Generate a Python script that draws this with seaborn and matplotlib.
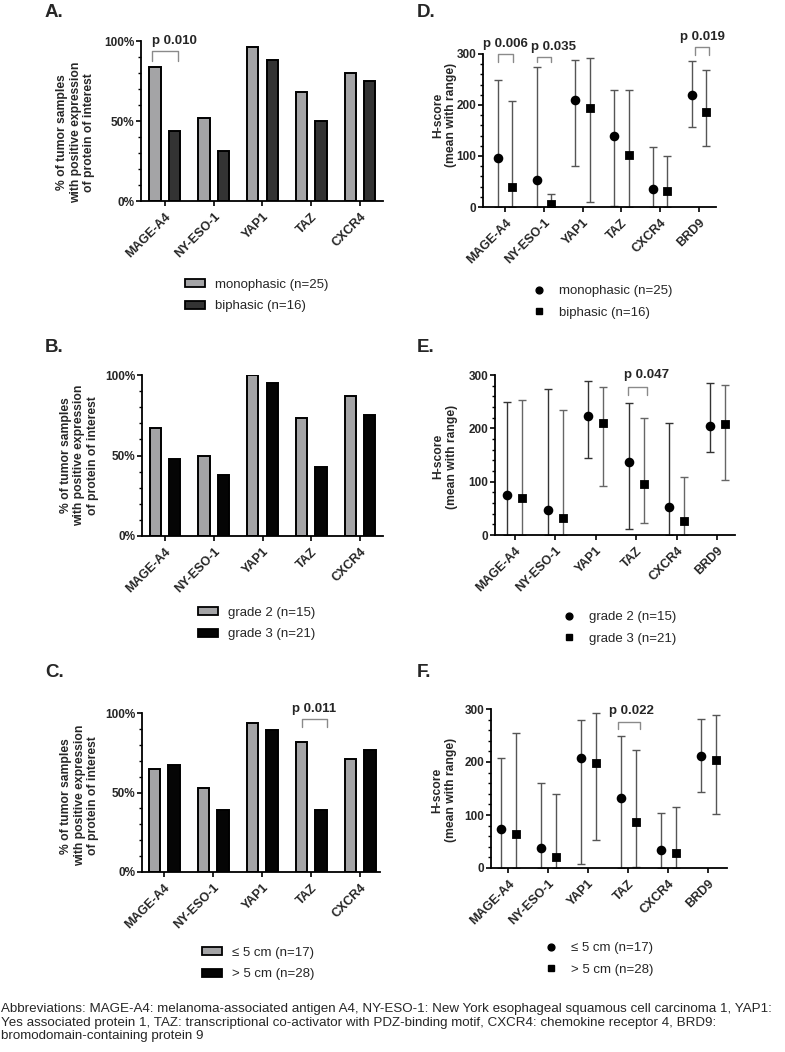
import pandas as pd
import matplotlib
matplotlib.use("Agg")
import matplotlib.pyplot as plt
from matplotlib.ticker import MultipleLocator, FixedLocator
from matplotlib.lines import Line2D
from matplotlib.patches import Patch
import seaborn as sns

# Data

bar_proteins = ["MAGE-A4", "NY-ESO-1", "YAP1", "TAZ", "CXCR4"]
dot_proteins = ["MAGE-A4", "NY-ESO-1", "YAP1", "TAZ", "CXCR4", "BRD9"]

# A / D : histologic subtype
subtype_groups = ["monophasic (n=25)", "biphasic (n=16)"]
subtype_pct_mono = [84, 52, 96, 68, 80]
subtype_pct_bi = [44, 31, 88, 50, 75]
subtype_mean_mono = [97, 52, 210, 139, 35, 219]
subtype_min_mono = [0, 0, 80, 1, 0, 157]
subtype_max_mono = [249, 274, 288, 229, 117, 287]
subtype_mean_bi = [40, 5, 194, 102, 31, 187]
subtype_min_bi = [0, 0, 9, 0, 0, 120]
subtype_max_bi = [207, 26, 292, 230, 100, 269]

# B / E : grade
grade_groups = ["grade 2 (n=15)", "grade 3 (n=21)"]
grade_pct_2 = [67, 50, 100, 73, 87]
grade_pct_3 = [48, 38, 95, 43, 75]
grade_mean_2 = [75, 47, 223, 137, 53, 204]
grade_min_2 = [0, 0, 145, 11, 0, 156]
grade_max_2 = [249, 273, 288, 248, 210, 285]
grade_mean_3 = [70, 32, 210, 96, 27, 208]
grade_min_3 = [0, 0, 91, 23, 0, 103]
grade_max_3 = [254, 234, 278, 220, 108, 281]

# C / F : tumor size
size_groups = ["≤ 5 cm (n=17)", "> 5 cm (n=28)"]
size_pct_small = [65, 53, 94, 82, 71]
size_pct_large = [67, 39, 89, 39, 77]
size_mean_small = [74, 38, 208, 132, 34, 211]
size_min_small = [0, 0, 8, 0, 0, 144]
size_max_small = [207, 160, 279, 250, 103, 282]
size_mean_large = [64, 20, 198, 86, 28, 204]
size_min_large = [0, 0, 53, 1, 0, 102]
size_max_large = [255, 140, 292, 222, 116, 289]

footer = ("Abbreviations: MAGE-A4: melanoma-associated antigen A4, NY-ESO-1: New York esophageal squamous cell carcinoma 1, YAP1:\n"
          "Yes associated protein 1, TAZ: transcriptional co-activator with PDZ-binding motif, CXCR4: chemokine receptor 4, BRD9:\n"
          "bromodomain-containing protein 9")

W, H = 785, 1052
BAR_YLABEL = "% of tumor samples\nwith positive expression\nof protein of interest"
DOT_YLABEL = "H-score\n(mean with range)"
BRACKET = "#8a8a8a"

sns.set_style("ticks")
plt.rcParams["font.family"] = ["Liberation Sans", "DejaVu Sans"]


def px_axes(fig, left, right, top, bottom):
    return fig.add_axes([left / W, 1 - bottom / H, (right - left) / W, (bottom - top) / H])


def style_axes(ax):
    sns.despine(ax=ax)
    for s in ["left", "bottom"]:
        ax.spines[s].set_linewidth(1.3)
        ax.spines[s].set_color("black")
    ax.tick_params(axis="both", which="major", length=3.5, width=1.2, color="black")
    ax.tick_params(axis="y", which="minor", length=2.5, width=1.0, color="black")
    ax.tick_params(axis="x", labelsize=9)
    ax.tick_params(axis="y", labelsize=8.5, pad=1.5)
    for lab in ax.get_xticklabels():
        lab.set_rotation(45)
        lab.set_ha("right")
        lab.set_rotation_mode("anchor")
        lab.set_fontweight("bold")
    for lab in ax.get_yticklabels():
        lab.set_fontweight("bold")
    ax.set_xlabel("")


def bracket(ax, cat, x0, x1, y0, y1, text, tx, ty):
    ax.plot([cat + x0, cat + x0, cat + x1, cat + x1], [y0, y1, y1, y0],
            color=BRACKET, lw=1.0, clip_on=False)
    ax.text(cat + tx, ty, text, ha="center", va="baseline", fontsize=9.5,
            fontweight="bold", clip_on=False)


def bar_panel(ax, pct1, pct2, groups, colors, xlim, ylab_x, ylab_y):
    df = pd.DataFrame({
        "protein": bar_proteins * 2,
        "pct": pct1 + pct2,
        "group": [groups[0]] * len(pct1) + [groups[1]] * len(pct2),
    })
    sns.barplot(data=df, x="protein", y="pct", hue="group", palette=colors,
                edgecolor="black", linewidth=1.4, width=0.8, gap=0.42,
                errorbar=None, legend=False, ax=ax)
    ax.set_xlim(*xlim)
    ax.set_ylim(0, 100)
    ax.yaxis.set_major_locator(FixedLocator([0, 50, 100]))
    ax.set_yticklabels(["0%", "50%", "100%"])
    ax.yaxis.set_minor_locator(MultipleLocator(10))
    ax.set_ylabel(BAR_YLABEL, fontsize=8.7, fontweight="bold", linespacing=1.15)
    ax.yaxis.set_label_coords(ylab_x, ylab_y)
    style_axes(ax)


def dot_panel(ax, means, mins, maxs, groups, xlim, ylab_x, ylab_y, ecolors):
    n = len(dot_proteins)
    df = pd.DataFrame({
        "protein": dot_proteins * 2,
        "hscore": means[0] + means[1],
        "group": [groups[0]] * n + [groups[1]] * n,
    })
    off = 0.185
    for k, sign in enumerate([-1, 1]):
        xs = [i + sign * off for i in range(n)]
        lo = [m - a for m, a in zip(means[k], mins[k])]
        hi = [b - m for m, b in zip(means[k], maxs[k])]
        ax.errorbar(xs, means[k], yerr=[lo, hi], fmt="none", ecolor=ecolors[k],
                    elinewidth=1.0, capsize=2.6, capthick=1.0, zorder=2)
    sns.pointplot(data=df, x="protein", y="hscore", hue="group", markers=["o", "s"],
                  linestyle="none", dodge=2 * off, palette=["black", "black"],
                  errorbar=None, markersize=4.9, legend=False, ax=ax, zorder=3)
    ax.set_xlim(*xlim)
    ax.set_ylim(0, 300)
    ax.yaxis.set_major_locator(FixedLocator([0, 100, 200, 300]))
    ax.yaxis.set_minor_locator(MultipleLocator(20))
    ax.set_ylabel(DOT_YLABEL, fontsize=8.7, fontweight="bold", linespacing=1.15)
    ax.yaxis.set_label_coords(ylab_x, ylab_y)
    style_axes(ax)


def bar_legend(fig, groups, colors, x, y):
    handles = [Patch(facecolor=c, edgecolor="black", lw=1.3, label=g) for g, c in zip(groups, colors)]
    fig.legend(handles=handles, loc="upper left", bbox_to_anchor=(x / W, 1 - y / H),
               frameon=False, fontsize=9.5, handlelength=1.5, handleheight=0.55,
               labelspacing=0.72, handletextpad=0.8, borderpad=0, borderaxespad=0)


def dot_legend(fig, groups, x, y):
    handles = [Line2D([], [], ls="none", marker=m, color="black", markersize=4.9, label=g)
               for g, m in zip(groups, ["o", "s"])]
    fig.legend(handles=handles, loc="upper left", bbox_to_anchor=(x / W, 1 - y / H),
               frameon=False, fontsize=9.5, handlelength=0.6, labelspacing=0.72,
               handletextpad=1.2, borderpad=0, borderaxespad=0)


fig = plt.figure(figsize=(W / 100, H / 100), dpi=100)

# bar charts (left column)
axA = px_axes(fig, 141, 383, 41, 201)
bar_panel(axA, subtype_pct_mono, subtype_pct_bi, subtype_groups, ["#a4a4a6", "#333333"],
          (-0.49, 4.47), -0.19, 0.43)
bracket(axA, 0, -0.26, 0.27, 87.5, 93.8, "p 0.010", 0.2, 98.3)
bar_legend(fig, subtype_groups, ["#a4a4a6", "#333333"], 185, 279)

axB = px_axes(fig, 142, 383, 375, 536)
bar_panel(axB, grade_pct_2, grade_pct_3, grade_groups, ["#a4a4a6", "#050505"],
          (-0.47, 4.47), -0.18, 0.5)
bar_legend(fig, grade_groups, ["#a4a4a6", "#050505"], 198, 607)

axC = px_axes(fig, 142, 380, 713, 872)
bar_panel(axC, size_pct_small, size_pct_large, size_groups, ["#a4a4a6", "#050505"],
          (-0.45, 4.4), -0.18, 0.48)
bracket(axC, 3, -0.18, 0.33, 91.2, 96.2, "p 0.011", 0.06, 100.6)
bar_legend(fig, size_groups, ["#a4a4a6", "#050505"], 202, 947)

# dot plots (right column)
axD = px_axes(fig, 483, 716, 54, 207)
dot_panel(axD, [subtype_mean_mono, subtype_mean_bi], [subtype_min_mono, subtype_min_bi],
          [subtype_max_mono, subtype_max_bi], subtype_groups, (-0.57, 5.44), -0.11, 0.6,
          ["#555555", "#555555"])
bracket(axD, 0, -0.18, 0.2, 285, 300, "p 0.006", 0.0, 314)
bracket(axD, 1, -0.18, 0.18, 285, 294, "p 0.035", 0.26, 308)
bracket(axD, 5, -0.1, 0.27, 298, 313, "p 0.019", 0.09, 327)
dot_legend(fig, subtype_groups, 535, 285)

axE = px_axes(fig, 495, 735, 375, 535)
dot_panel(axE, [grade_mean_2, grade_mean_3], [grade_min_2, grade_min_3],
          [grade_max_2, grade_max_3], grade_groups, (-0.49, 5.44), -0.155, 0.49,
          ["#333333", "#666666"])
bracket(axE, 3, -0.2, 0.27, 262, 277.5, "p 0.047", 0.25, 294)
dot_legend(fig, grade_groups, 565, 611)

axF = px_axes(fig, 491, 727, 709, 868)
dot_panel(axF, [size_mean_small, size_mean_large], [size_min_small, size_min_large],
          [size_max_small, size_max_large], size_groups, (-0.43, 5.47), -0.144, 0.49,
          ["#555555", "#555555"])
bracket(axF, 3, -0.25, 0.3, 262, 276, "p 0.022", 0.08, 290.6)
dot_legend(fig, size_groups, 547, 942)

# panel letters
for letter, x, y in [("A.", 45, 4), ("D.", 417, 4), ("B.", 45, 339),
                     ("E.", 417, 339), ("C.", 45, 664), ("F.", 417, 664)]:
    fig.text(x / W, 1 - y / H, letter, fontsize=13.5, fontweight="bold", va="top", ha="left")

fig.text(1 / W, 1 - 1003 / H, footer, fontsize=9.6, va="top", ha="left", linespacing=1.17)

fig.savefig("out.png", dpi=100)
